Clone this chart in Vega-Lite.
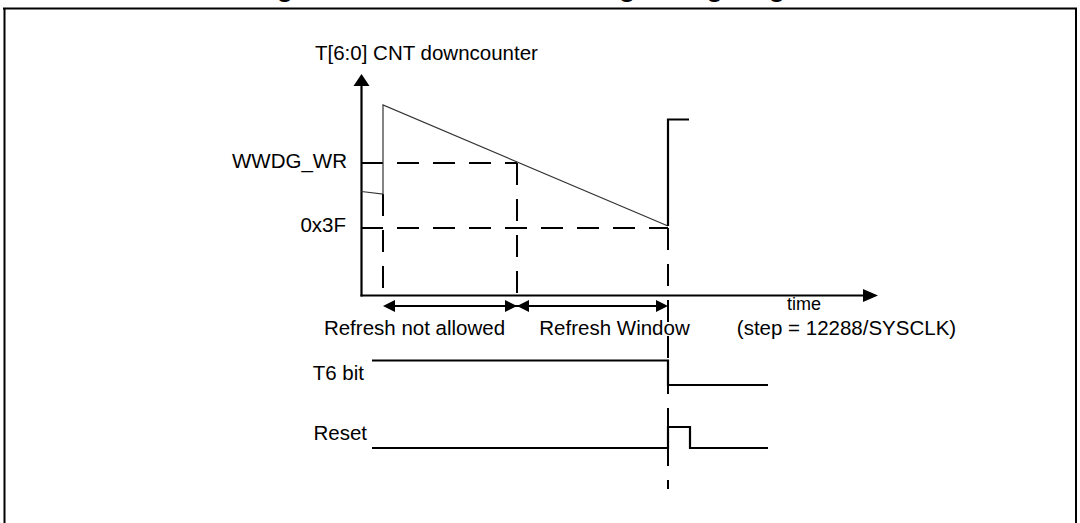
{
  "$schema": "https://vega.github.io/schema/vega-lite/v6.json",
  "width": 1080,
  "height": 523,
  "autosize": {"type": "none"},
  "padding": 0,
  "background": "white",
  "config": {"view": {"stroke": null}, "font": "Liberation Sans"},
  "datasets": {
    "frame": [
      {"x": 3, "y": 8.5, "x2": 1077, "y2": 8.5},
      {"x": 4.5, "y": 8, "x2": 4.5, "y2": 530},
      {"x": 1076, "y": 8, "x2": 1076, "y2": 530}
    ],
    "axes": [
      {"x": 361.5, "y": 85, "x2": 361.5, "y2": 296.5},
      {"x": 360.5, "y": 295.5, "x2": 864, "y2": 295.5},
      {"x": 392, "y": 306, "x2": 659, "y2": 306}
    ],
    "dashed": [
      {"x": 361, "y": 163, "x2": 517, "y2": 163},
      {"x": 361, "y": 228, "x2": 668, "y2": 228},
      {"x": 383, "y": 194, "x2": 383, "y2": 296},
      {"x": 517, "y": 163, "x2": 517, "y2": 296},
      {"x": 668, "y": 228, "x2": 668, "y2": 489}
    ],
    "counter": [
      {"i": 0, "x": 361.5, "y": 191.5},
      {"i": 1, "x": 383, "y": 194},
      {"i": 2, "x": 383, "y": 105},
      {"i": 3, "x": 668, "y": 226}
    ],
    "waves": [
      {"s": "cnt", "i": 0, "x": 668, "y": 226},
      {"s": "cnt", "i": 1, "x": 668, "y": 119.5},
      {"s": "cnt", "i": 2, "x": 689, "y": 119.5},
      {"s": "t6", "i": 0, "x": 372, "y": 360.5},
      {"s": "t6", "i": 1, "x": 668, "y": 360.5},
      {"s": "t6", "i": 2, "x": 668, "y": 385},
      {"s": "t6", "i": 3, "x": 768, "y": 385},
      {"s": "rst", "i": 0, "x": 372, "y": 448},
      {"s": "rst", "i": 1, "x": 668, "y": 448},
      {"s": "rst", "i": 2, "x": 668, "y": 427},
      {"s": "rst", "i": 3, "x": 690, "y": 427},
      {"s": "rst", "i": 4, "x": 690, "y": 448},
      {"s": "rst", "i": 5, "x": 768, "y": 448}
    ],
    "headUp": [{"x": 361.5, "y": 80}],
    "headAxis": [{"x": 870.5, "y": 295.5}],
    "headRight": [{"x": 511, "y": 306}, {"x": 662, "y": 306}],
    "headLeft": [{"x": 389, "y": 306}, {"x": 523, "y": 306}],
    "textLeft": [{"label": "T[6:0] CNT downcounter", "x": 315, "y": 60}],
    "textRight": [
      {"label": "WWDG_WR", "x": 347, "y": 168},
      {"label": "0x3F", "x": 346, "y": 232},
      {"label": "T6 bit", "x": 364, "y": 380},
      {"label": "Reset", "x": 367, "y": 440}
    ],
    "textCenter": [
      {"label": "Refresh not allowed", "x": 414.5, "y": 335},
      {"label": "Refresh Window", "x": 614.5, "y": 335},
      {"label": "(step = 12288/SYSCLK)", "x": 846.5, "y": 335}
    ],
    "textSmall": [{"label": "time", "x": 804, "y": 310}],
    "title": [{"label": "Figure 215. Window watchdog timing diagram", "x": 253, "y": -3.5}]
  },
  "layer": [
    {
      "data": {"name": "frame"},
      "mark": {"type": "rule", "color": "black", "strokeWidth": 2},
      "encoding": {
        "x": {"field": "x", "type": "quantitative", "scale": {"domain": [0, 1080], "nice": false, "zero": false}, "axis": null},
        "y": {"field": "y", "type": "quantitative", "scale": {"domain": [0, 523], "reverse": true, "nice": false, "zero": false}, "axis": null},
        "x2": {"field": "x2"},
        "y2": {"field": "y2"}
      }
    },
    {
      "data": {"name": "axes"},
      "mark": {"type": "rule", "color": "black", "strokeWidth": 2.2},
      "encoding": {
        "x": {"field": "x", "type": "quantitative", "axis": null},
        "y": {"field": "y", "type": "quantitative", "axis": null},
        "x2": {"field": "x2"},
        "y2": {"field": "y2"}
      }
    },
    {
      "data": {"name": "dashed"},
      "mark": {"type": "rule", "color": "black", "strokeWidth": 2, "strokeDash": [22, 14], "strokeCap": "butt"},
      "encoding": {
        "x": {"field": "x", "type": "quantitative", "axis": null},
        "y": {"field": "y", "type": "quantitative", "axis": null},
        "x2": {"field": "x2"},
        "y2": {"field": "y2"}
      }
    },
    {
      "data": {"name": "counter"},
      "mark": {"type": "line", "color": "#333333", "strokeWidth": 1.2},
      "encoding": {
        "x": {"field": "x", "type": "quantitative", "axis": null},
        "y": {"field": "y", "type": "quantitative", "axis": null},
        "order": {"field": "i", "type": "quantitative"}
      }
    },
    {
      "data": {"name": "waves"},
      "mark": {"type": "line", "color": "black", "strokeWidth": 2.2, "strokeJoin": "miter"},
      "encoding": {
        "x": {"field": "x", "type": "quantitative", "axis": null},
        "y": {"field": "y", "type": "quantitative", "axis": null},
        "detail": {"field": "s", "type": "nominal"},
        "order": {"field": "i", "type": "quantitative"}
      }
    },
    {
      "data": {"name": "headUp"},
      "mark": {"type": "point", "shape": "M0,-0.75L1,0.75L-1,0.75Z", "size": 256, "filled": true, "color": "black", "opacity": 1},
      "encoding": {
        "x": {"field": "x", "type": "quantitative", "axis": null},
        "y": {"field": "y", "type": "quantitative", "axis": null}
      }
    },
    {
      "data": {"name": "headAxis"},
      "mark": {"type": "point", "shape": "M1,0L-1,-0.87L-1,0.87Z", "size": 225, "filled": true, "color": "black", "opacity": 1},
      "encoding": {
        "x": {"field": "x", "type": "quantitative", "axis": null},
        "y": {"field": "y", "type": "quantitative", "axis": null}
      }
    },
    {
      "data": {"name": "headRight"},
      "mark": {"type": "point", "shape": "M1,0L-1,-1L-1,1Z", "size": 144, "filled": true, "color": "black", "opacity": 1},
      "encoding": {
        "x": {"field": "x", "type": "quantitative", "axis": null},
        "y": {"field": "y", "type": "quantitative", "axis": null}
      }
    },
    {
      "data": {"name": "headLeft"},
      "mark": {"type": "point", "shape": "M-1,0L1,-1L1,1Z", "size": 144, "filled": true, "color": "black", "opacity": 1},
      "encoding": {
        "x": {"field": "x", "type": "quantitative", "axis": null},
        "y": {"field": "y", "type": "quantitative", "axis": null}
      }
    },
    {
      "data": {"name": "textLeft"},
      "mark": {"type": "text", "align": "left", "baseline": "alphabetic", "fontSize": 20.5, "font": "Liberation Sans", "color": "black"},
      "encoding": {
        "x": {"field": "x", "type": "quantitative", "axis": null},
        "y": {"field": "y", "type": "quantitative", "axis": null},
        "text": {"field": "label"}
      }
    },
    {
      "data": {"name": "textRight"},
      "mark": {"type": "text", "align": "right", "baseline": "alphabetic", "fontSize": 20.5, "font": "Liberation Sans", "color": "black"},
      "encoding": {
        "x": {"field": "x", "type": "quantitative", "axis": null},
        "y": {"field": "y", "type": "quantitative", "axis": null},
        "text": {"field": "label"}
      }
    },
    {
      "data": {"name": "textCenter"},
      "mark": {"type": "text", "align": "center", "baseline": "alphabetic", "fontSize": 20.5, "font": "Liberation Sans", "color": "black"},
      "encoding": {
        "x": {"field": "x", "type": "quantitative", "axis": null},
        "y": {"field": "y", "type": "quantitative", "axis": null},
        "text": {"field": "label"}
      }
    },
    {
      "data": {"name": "textSmall"},
      "mark": {"type": "text", "align": "center", "baseline": "alphabetic", "fontSize": 18, "font": "Liberation Sans", "color": "black"},
      "encoding": {
        "x": {"field": "x", "type": "quantitative", "axis": null},
        "y": {"field": "y", "type": "quantitative", "axis": null},
        "text": {"field": "label"}
      }
    },
    {
      "data": {"name": "title"},
      "mark": {"type": "text", "align": "left", "baseline": "alphabetic", "fontSize": 26.7, "fontWeight": "bold", "font": "Liberation Sans", "color": "black"},
      "encoding": {
        "x": {"field": "x", "type": "quantitative", "axis": null},
        "y": {"field": "y", "type": "quantitative", "axis": null},
        "text": {"field": "label"}
      }
    }
  ]
}
